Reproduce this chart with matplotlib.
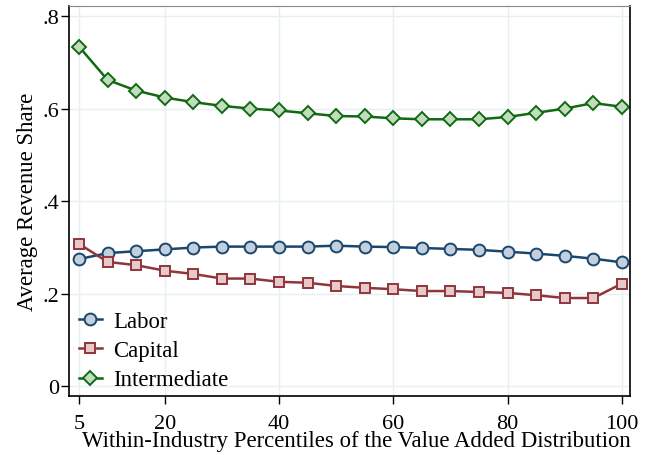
import numpy as np
import matplotlib.pyplot as plt

# percentiles del valor agregado (dentro de la industria)
pctl = [5, 10, 15, 20, 25, 30, 35, 40, 45, 50,
        55, 60, 65, 70, 75, 80, 85, 90, 95, 100]

labor = [0.275, 0.288, 0.292, 0.296, 0.300, 0.302, 0.302, 0.302, 0.302, 0.304,
         0.302, 0.301, 0.299, 0.297, 0.295, 0.291, 0.287, 0.282, 0.276, 0.268]
capital = [0.308, 0.269, 0.262, 0.250, 0.243, 0.233, 0.233, 0.226, 0.224, 0.217,
           0.213, 0.210, 0.206, 0.206, 0.204, 0.202, 0.197, 0.191, 0.191, 0.222]
intermediate = [0.734, 0.662, 0.639, 0.624, 0.614, 0.606, 0.600, 0.596, 0.590, 0.584,
                0.583, 0.579, 0.577, 0.577, 0.577, 0.582, 0.591, 0.600, 0.612, 0.604]

xticks = [5, 20, 40, 60, 80, 100]
yticks = [0, 0.2, 0.4, 0.6, 0.8]
ytick_labels = ["0", ".2", ".4", ".6", ".8"]

plt.rcParams["font.family"] = ["Liberation Serif", "DejaVu Serif"]

fig = plt.figure(figsize=(6.48, 4.56), dpi=100)
ax = fig.add_axes([0.106, 0.129, 0.866, 0.855])

grid_c = "#e6eff1"
for gx in xticks:
    ax.axvline(gx, color=grid_c, lw=1.0, zorder=0)
for gy in yticks:
    ax.axhline(gy, color=grid_c, lw=1.0, zorder=0)

ax.plot(pctl, labor, color="#1a476f", lw=1.8, marker="o", ms=8.5,
        mfc="#c3cfdb", mec="#1a476f", mew=1.4, label="Labor")
ax.plot(pctl, capital, color="#90353b", lw=1.8, marker="s", ms=7.5,
        mfc="#e6c9cb", mec="#90353b", mew=1.4, label="Capital")
ax.plot(pctl, intermediate, color="#116a11", lw=1.8, marker="D", ms=7.2,
        mfc="#c2dcbf", mec="#116a11", mew=1.4, label="Intermediate")

ax.set_xlim(3.2, 101.4)
ax.set_ylim(-0.021, 0.821)
ax.set_xticks(xticks)
ax.set_yticks(yticks)
ax.set_yticklabels(ytick_labels)
ax.tick_params(labelsize=16, length=5.5, width=1, direction="out")
ax.tick_params(axis="x", pad=7.5)
ax.tick_params(axis="y", pad=1.5)

for side in ["left", "bottom", "right"]:
    ax.spines[side].set_color("black")
    ax.spines[side].set_linewidth(1.2)
ax.spines["top"].set_color("#888888")
ax.spines["top"].set_linewidth(0.8)

ax.set_xlabel("Within-Industry Percentiles of the Value Added Distribution",
              fontsize=16.4)
ax.xaxis.set_label_coords(0.512, -0.086, transform=ax.transAxes)
ax.xaxis.label.set_va("top")
ax.set_ylabel("Average Revenue Share", fontsize=16.4, labelpad=3)

ax.legend(loc="lower left", frameon=False, fontsize=16.4, handlelength=1.0,
          handletextpad=0.5, labelspacing=0.37, borderpad=0.25,
          borderaxespad=0.0, bbox_to_anchor=(0.008, 0.0))

fig.savefig("out.png", dpi=100)
